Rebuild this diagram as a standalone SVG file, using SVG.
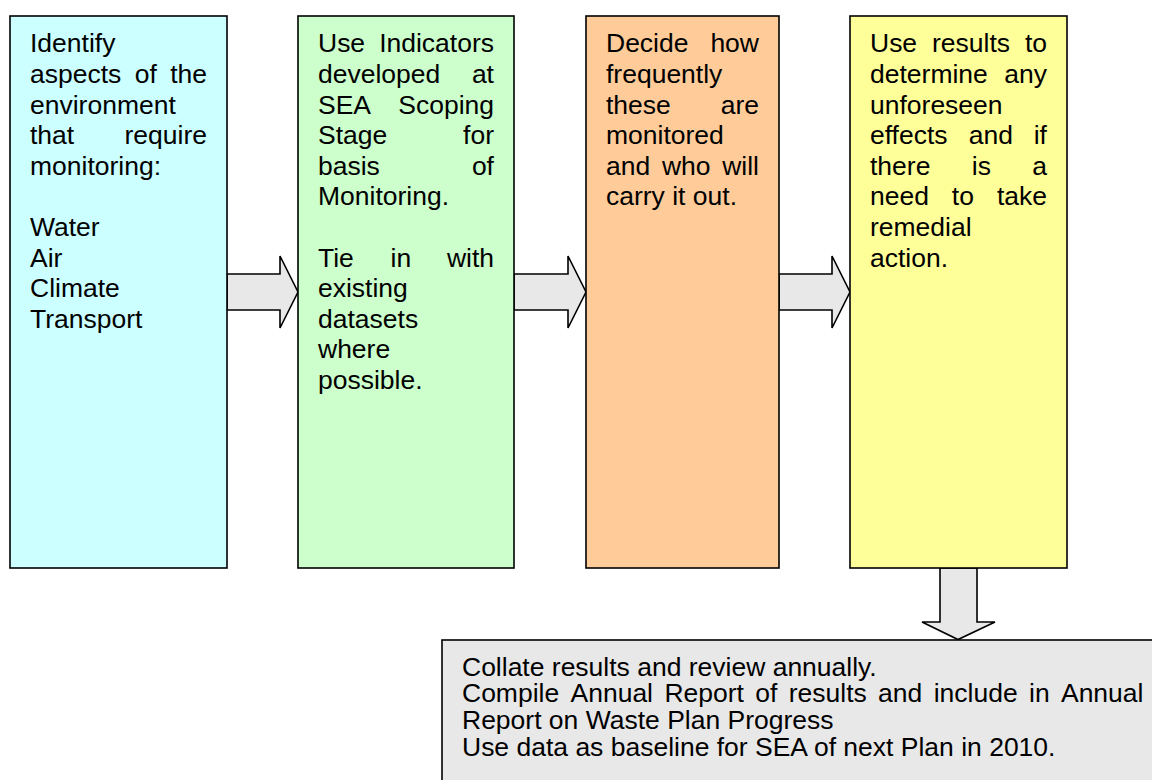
<svg xmlns="http://www.w3.org/2000/svg" width="1152" height="780" viewBox="0 0 1152 780">
<style>
.box{stroke:#000;stroke-width:1.6}
.arr{fill:#E8E8E8;stroke:#000;stroke-width:1.6;stroke-linejoin:miter}
text{font-family:"Liberation Sans",Arial,sans-serif;font-size:25px;fill:#000}
.e{text-anchor:end}
</style>
<rect x="0" y="0" width="1152" height="780" fill="#fff"/>
<g id="connectors">
<polygon class="arr" points="227,274 280,274 280,256 298,292 280,328 280,310 227,310"/>
<polygon class="arr" points="514,274 568,274 568,256 586,292 568,328 568,310 514,310"/>
<polygon class="arr" points="779,274 832,274 832,256 850,292 832,328 832,310 779,310"/>
<polygon class="arr" points="940,568 977,568 977,622 995,622 958,639.5 922,622 940,622"/>
</g>
<g id="node1">
<rect class="box" x="10" y="16" width="217" height="552" fill="#CCFFFF"/>
<g transform="translate(30,0) scale(1.06,1)">
<text x="0" y="52.5">Identify</text>
<text x="0" y="83.1">aspects</text><text x="98.77" y="83.1">of</text><text class="e" x="166.98" y="83.1">the</text>
<text x="0" y="113.7">environment</text>
<text x="0" y="144.3">that</text><text class="e" x="166.98" y="144.3">require</text>
<text x="0" y="174.9">monitoring:</text>
<text x="0" y="236.1">Water</text>
<text x="0" y="266.7">Air</text>
<text x="0" y="297.3">Climate</text>
<text x="0" y="327.9">Transport</text>
</g>
</g>
<g id="node2">
<rect class="box" x="298" y="16" width="216" height="552" fill="#CCFFCC"/>
<g transform="translate(318,0) scale(1.06,1)">
<text x="0" y="52.5">Use</text><text class="e" x="166.04" y="52.5">Indicators</text>
<text x="0" y="83.1">developed</text><text class="e" x="166.04" y="83.1">at</text>
<text x="0" y="113.7">SEA</text><text class="e" x="166.04" y="113.7">Scoping</text>
<text x="0" y="144.3">Stage</text><text class="e" x="166.04" y="144.3">for</text>
<text x="0" y="174.9">basis</text><text class="e" x="166.04" y="174.9">of</text>
<text x="0" y="205.5">Monitoring.</text>
<text x="0" y="266.7">Tie</text><text x="68.43" y="266.7">in</text><text class="e" x="166.04" y="266.7">with</text>
<text x="0" y="297.3">existing</text>
<text x="0" y="327.9">datasets</text>
<text x="0" y="358.5">where</text>
<text x="0" y="389.1">possible.</text>
</g>
</g>
<g id="node3">
<rect class="box" x="586" y="16" width="193" height="552" fill="#FFCC99"/>
<g transform="translate(606,0) scale(1.06,1)">
<text x="0" y="52.5">Decide</text><text class="e" x="144.34" y="52.5">how</text>
<text x="0" y="83.1">frequently</text>
<text x="0" y="113.7">these</text><text class="e" x="144.34" y="113.7">are</text>
<text x="0" y="144.3">monitored</text>
<text x="0" y="174.9">and</text><text x="52.75" y="174.9">who</text><text class="e" x="144.34" y="174.9">will</text>
<text x="0" y="205.5">carry it out.</text>
</g>
</g>
<g id="node4">
<rect class="box" x="850" y="16" width="217" height="552" fill="#FFFF99"/>
<g transform="translate(870,0) scale(1.06,1)">
<text x="0" y="52.5">Use</text><text x="58.48" y="52.5">results</text><text class="e" x="166.98" y="52.5">to</text>
<text x="0" y="83.1">determine</text><text class="e" x="166.98" y="83.1">any</text>
<text x="0" y="113.7">unforeseen</text>
<text x="0" y="144.3">effects</text><text x="93.22" y="144.3">and</text><text class="e" x="166.98" y="144.3">if</text>
<text x="0" y="174.9">there</text><text x="96.0" y="174.9">is</text><text class="e" x="166.98" y="174.9">a</text>
<text x="0" y="205.5">need</text><text x="77.24" y="205.5">to</text><text class="e" x="166.98" y="205.5">take</text>
<text x="0" y="236.1">remedial</text>
<text x="0" y="266.7">action.</text>
</g>
</g>
<g id="node5">
<rect class="box" x="442" y="640" width="730" height="160" fill="#E8E8E8"/>
<g transform="translate(462,0) scale(1.06,1)">
<text x="0" y="675.7">Collate results and review annually.</text>
<text x="0" y="702.5">Compile</text><text x="102.39" y="702.5">Annual</text><text x="190.93" y="702.5">Report</text><text x="276.67" y="702.5">of</text><text x="308.24" y="702.5">results</text><text x="392.58" y="702.5">and</text><text x="445.0" y="702.5">include</text><text x="534.91" y="702.5">in</text><text class="e" x="642.9" y="702.5">Annual</text>
<text x="0" y="729.3">Report on Waste Plan Progress</text>
<text x="0" y="756">Use data as baseline for SEA of next Plan in 2010.</text>
</g>
</g>
</svg>
